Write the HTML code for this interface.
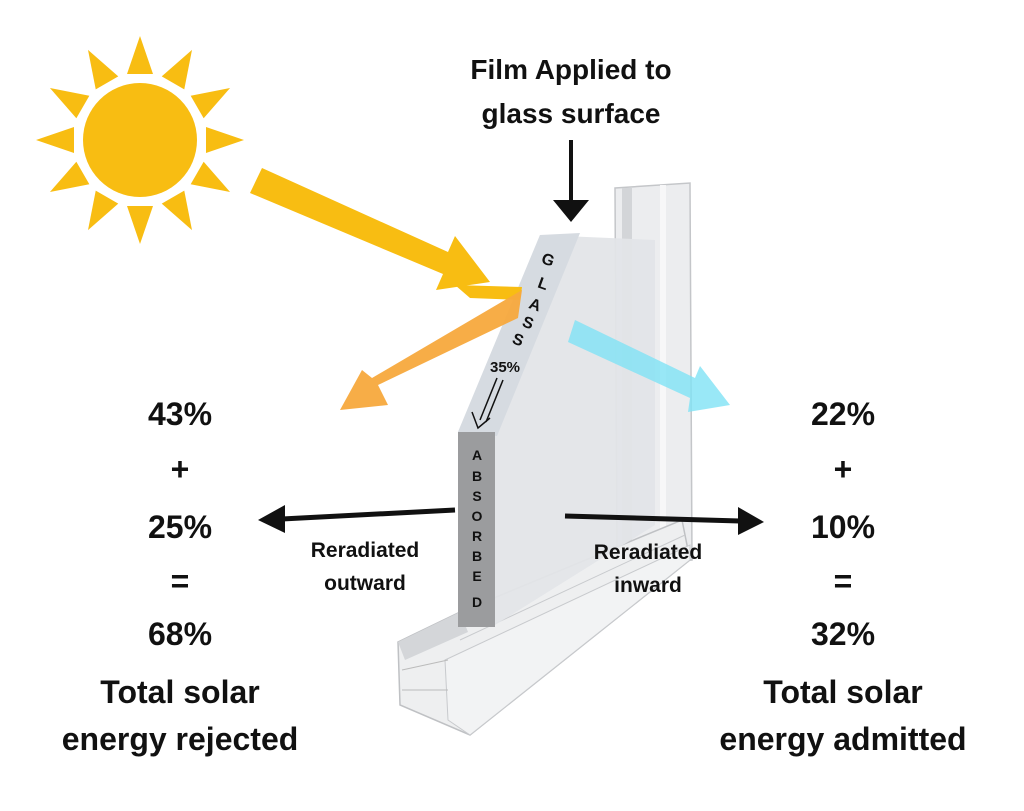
<!DOCTYPE html>
<html><head><meta charset="utf-8"><style>
html,body{margin:0;padding:0;background:#fff;}
svg{display:block;font-family:"Liberation Sans",sans-serif;}
.b{font-weight:bold;fill:#111;}
</style></head><body>
<svg width="1024" height="811" viewBox="0 0 1024 811" xmlns="http://www.w3.org/2000/svg">
<rect width="1024" height="811" fill="#fff"/>
<!-- Sun -->
<g fill="#F8BD12">
<g transform="translate(140,140)">
<polygon points="-13,-66 13,-66 0,-104"/>
<polygon points="-13,-66 13,-66 0,-104" transform="rotate(30)"/>
<polygon points="-13,-66 13,-66 0,-104" transform="rotate(60)"/>
<polygon points="-13,-66 13,-66 0,-104" transform="rotate(90)"/>
<polygon points="-13,-66 13,-66 0,-104" transform="rotate(120)"/>
<polygon points="-13,-66 13,-66 0,-104" transform="rotate(150)"/>
<polygon points="-13,-66 13,-66 0,-104" transform="rotate(180)"/>
<polygon points="-13,-66 13,-66 0,-104" transform="rotate(210)"/>
<polygon points="-13,-66 13,-66 0,-104" transform="rotate(240)"/>
<polygon points="-13,-66 13,-66 0,-104" transform="rotate(270)"/>
<polygon points="-13,-66 13,-66 0,-104" transform="rotate(300)"/>
<polygon points="-13,-66 13,-66 0,-104" transform="rotate(330)"/>
<circle r="64" fill="#fff"/>
<circle r="57"/>
</g>
</g>
<!-- Window frame mullion -->
<polygon points="615,188 690,183 692,560 617,565" fill="#ECEDEF" stroke="#c4c6c9" stroke-width="1.5"/>
<rect x="622" y="188" width="10" height="375" fill="#d3d5d8"/>
<rect x="660" y="185" width="6" height="375" fill="#f7f7f8"/>
<!-- sill -->
<polygon points="398,642 460,612 682,520 690,560 470,735 400,705" fill="#EEEFF0" stroke="#bfc1c4" stroke-width="1.5"/>
<polygon points="398,642 460,612 468,632 405,660" fill="#d4d6d9"/>
<polygon points="445,660 690,545 690,560 470,735 448,720" fill="#F2F3F4" stroke="#c8cacd" stroke-width="1"/>
<line x1="402" y1="670" x2="448" y2="660" stroke="#bbb"/>
<line x1="402" y1="690" x2="448" y2="690" stroke="#bbb"/>
<line x1="460" y1="640" x2="685" y2="535" stroke="#c8cacd"/>
<!-- glass -->
<polygon points="540,235 655,240 655,525 495,625 458,625 458,432" fill="#E3E5E8" opacity="0.95"/>
<polygon points="540,235 580,233 497,436 458,432" fill="#D6DBE1"/>
<rect x="458" y="432" width="37" height="195" fill="#9B9C9E"/>
<!-- yellow arrow -->
<polygon points="262,168 448,252 455,236 490,282 436,290 443,274 250,193" fill="#F8BD12"/>
<polygon points="455,285 522,287 520,300 470,298" fill="#F8BD12"/>
<!-- orange arrow -->
<polygon points="522,290 518,318 378,385 388,405 340,410 362,370 372,378" fill="#F7A93D" opacity="0.95"/>
<!-- cyan arrow -->
<polygon points="575,320 695,378 700,366 730,405 688,412 690,398 568,342" fill="#7FE2F5" opacity="0.8"/>
<!-- film arrow -->
<line x1="571" y1="140" x2="571" y2="200" stroke="#111" stroke-width="4"/>
<polygon points="553,200 589,200 571,222" fill="#111"/>
<!-- reradiated arrows -->
<line x1="455" y1="510" x2="282" y2="519" stroke="#111" stroke-width="5"/>
<polygon points="285,505 285,533 258,520" fill="#111"/>
<line x1="565" y1="516" x2="740" y2="521" stroke="#111" stroke-width="5"/>
<polygon points="738,507 738,535 764,522" fill="#111"/>
<!-- double arrow -->
<line x1="497" y1="378" x2="480" y2="420" stroke="#111" stroke-width="1.5"/>
<line x1="503" y1="380" x2="486" y2="422" stroke="#111" stroke-width="1.5"/>
<polyline points="472,412 478,428 490,418" fill="none" stroke="#111" stroke-width="1.5"/>
<!-- text -->
<g class="b" font-size="28" text-anchor="middle">
<text x="571" y="79">Film Applied to</text>
<text x="571" y="123">glass surface</text>
</g>
<g class="b" font-size="32" text-anchor="middle">
<text x="180" y="425">43%</text>
<text x="180" y="480">+</text>
<text x="180" y="538">25%</text>
<text x="180" y="592">=</text>
<text x="180" y="645">68%</text>
<text x="180" y="703">Total solar</text>
<text x="180" y="750">energy rejected</text>
<text x="843" y="425">22%</text>
<text x="843" y="480">+</text>
<text x="843" y="538">10%</text>
<text x="843" y="592">=</text>
<text x="843" y="645">32%</text>
<text x="843" y="703">Total solar</text>
<text x="843" y="750">energy admitted</text>
</g>
<g class="b" font-size="21" text-anchor="middle">
<text x="365" y="557">Reradiated</text>
<text x="365" y="590">outward</text>
<text x="648" y="559">Reradiated</text>
<text x="648" y="592">inward</text>
</g>
<g font-size="16" fill="#111" text-anchor="middle" font-weight="bold">
<text x="548" y="265" transform="rotate(20 548 260)">G</text>
<text x="543" y="289" transform="rotate(20 543 284)">L</text>
<text x="535" y="310" transform="rotate(20 535 305)">A</text>
<text x="528" y="328" transform="rotate(20 528 323)">S</text>
<text x="518" y="345" transform="rotate(20 518 340)">S</text>
<text x="505" y="372" font-size="15">35%</text>
</g>
<g font-size="14" fill="#111" text-anchor="middle" font-weight="bold">
<text x="477" y="460">A</text>
<text x="477" y="481">B</text>
<text x="477" y="501">S</text>
<text x="477" y="521">O</text>
<text x="477" y="541">R</text>
<text x="477" y="561">B</text>
<text x="477" y="581">E</text>
<text x="477" y="607">D</text>
</g>
</svg>
</body></html>
